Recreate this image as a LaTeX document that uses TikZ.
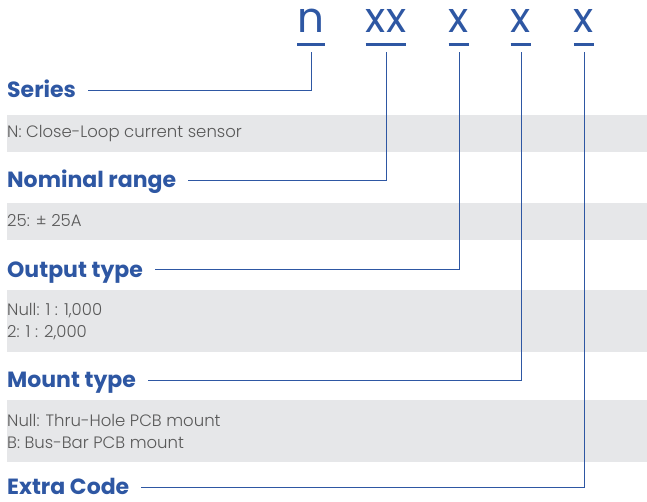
\documentclass[tikz,border=0pt]{standalone}
\usepackage{fontspec}
\setmainfont{Poppins}
\newfontfamily\lightfont{Poppins Light}
\usepackage{tikz}
\usetikzlibrary{arrows}
\definecolor{pnblue}{rgb}{0.18,0.34,0.64}
\definecolor{bandgray}{rgb}{0.902,0.906,0.914}
\definecolor{txtgray}{rgb}{0.35,0.35,0.35}

\begin{document}
\begin{tikzpicture}[line cap=butt,line join=miter,x=1pt,y=-1pt,
  code/.style={text=pnblue,font=\fontsize{42}{42}\selectfont,inner sep=0pt,anchor=base},
  head/.style={text=pnblue,font=\fontsize{22}{22}\selectfont\bfseries,inner sep=0pt,text height=14pt,text depth=0pt,anchor=base west},
  desc/.style={text=txtgray,font=\lightfont\fontsize{16.5}{21.5}\selectfont,inner sep=0pt,anchor=base west,align=left},
  band/.style={fill=bandgray,draw=none},
  uline/.style={draw=pnblue,line width=3pt},
  conn/.style={draw=pnblue,line width=1pt,shorten <=12pt}]
\useasboundingbox (0,0) rectangle (647,502);
% grey bands
\fill [band] (7,115) rectangle (647,152);
\fill [band] (7,203) rectangle (647,240);
\fill [band] (7,290) rectangle (647,352);
\fill [band] (7,400) rectangle (647,462);
% part number
\node [code] (n) at (311,33) {n};
\node [code] (xx) at (386,33) {xx};
\node [code] (xo) at (459,33) {x};
\node [code] (xm) at (521,33) {x};
\node [code] (xe) at (584,33) {x};
\foreach \c in {n,xx,xo,xm,xe}
  \draw [uline] ([yshift=-12pt]\c.base west) -- ([yshift=-12pt]\c.base east);
% headings
\node [head] (series) at (7,98) {Series};
\node [head] (nominal) at (7,188) {Nominal range};
\node [head] (output) at (7,277) {Output type};
\node [head] (mount) at (7,387) {Mount type};
\node [head] (extra) at (7,494) {Extra Code};
% descriptions (base = last line)
\node [desc] (dseries) at (7,138) {N: Close-Loop current sensor};
\node [desc] (dnominal) at (7,227) {25: ± 25A};
\node [desc] (doutput) at (7,337) {Null: 1 : 1,000\\2: 1 : 2,000};
\node [desc] (dmount) at (7,448) {Null: Thru-Hole PCB mount\\B: Bus-Bar PCB mount};
% connectors
\draw [conn] (series.east) -| ([yshift=-19pt]n.base);
\draw [conn] (nominal.east) -| ([yshift=-19pt]xx.base);
\draw [conn] (output.east) -| ([yshift=-19pt]xo.base);
\draw [conn] (mount.east) -| ([yshift=-19pt]xm.base);
\draw [conn] (extra.east) -| ([yshift=-19pt]xe.base);
\end{tikzpicture}
\end{document}
